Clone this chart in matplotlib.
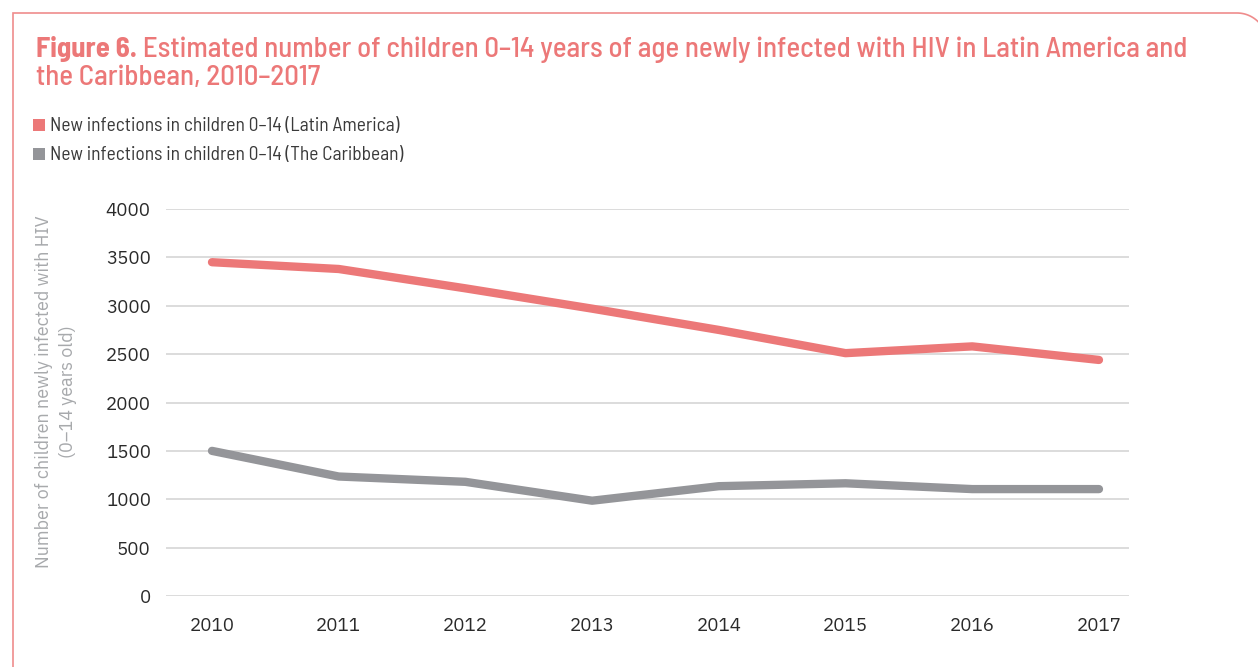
import numpy as np
import matplotlib
matplotlib.use("Agg")
import matplotlib.pyplot as plt
from matplotlib.path import Path
from matplotlib.patches import PathPatch, Rectangle
from matplotlib.transforms import Affine2D

# --- data -------------------------------------------------------------
years = [2010, 2011, 2012, 2013, 2014, 2015, 2016, 2017]
latin_america = [3450, 3380, 3180, 2970, 2750, 2510, 2580, 2440]
caribbean = [1500, 1235, 1180, 985, 1135, 1165, 1105, 1105]
y_ticks = [0, 500, 1000, 1500, 2000, 2500, 3000, 3500, 4000]

series_names = [
    "New infections in children 0\u201314 (Latin America)",
    "New infections in children 0\u201314 (The Caribbean)",
]
title_bold = "Figure 6."
title_line1 = " Estimated number of children 0\u201314 years of age newly infected with HIV in Latin America and"
title_line2 = "the Caribbean, 2010\u20132017"
y_label = "Number of children newly infected with HIV\n(0\u201314 years old)"

# --- style ------------------------------------------------------------
PINK = "#ec7878"
GREY = "#949599"
FRAME = "#ef8c8c"
W, H = 1258, 667
HEAD = ["Barlow Semi Condensed", "DejaVu Sans"]
BODY = ["IBM Plex Sans", "DejaVu Sans"]

fig = plt.figure(figsize=(W / 100, H / 100), dpi=100)
renderer = fig.canvas.get_renderer()
# pixel coordinates measured from the top-left corner
px = Affine2D().scale(1 / W, -1 / H).translate(0, 1) + fig.transFigure

ax = fig.add_axes([166 / W, 1 - 596 / H, (1129 - 166) / W, (596 - 209) / H])
ax.plot(years, latin_america, color=PINK, lw=6, solid_capstyle="round",
        solid_joinstyle="round", zorder=3)
ax.plot(years, caribbean, color=GREY, lw=6, solid_capstyle="round",
        solid_joinstyle="round", zorder=3)

ax.set_ylim(0, 4000)
ax.set_xlim(2009.637, 2017.237)
ax.set_yticks(y_ticks)
ax.set_xticks(years)
ax.set_xticklabels([str(y) for y in years])
ax.grid(axis="y", color="#d2d2d2", lw=1.1, zorder=0)
ax.grid(axis="x", visible=False)
for s in ax.spines.values():
    s.set_visible(False)
ax.tick_params(axis="both", length=0, labelsize=13.5, labelcolor="#2a2a2a")
ax.tick_params(axis="y", pad=11)
ax.tick_params(axis="x", pad=15)
for lab in ax.get_xticklabels() + ax.get_yticklabels():
    lab.set_family(BODY)
    lab.set_fontweight("normal")

# y-axis title
fig.text(56, 392, y_label, transform=px, rotation=90, ha="center", va="center",
         multialignment="center", fontsize=13, color="#a7a9ac",
         family=BODY, fontweight="light", linespacing=1.45)

# heading: bold lead-in followed by the regular text, fitted to the frame
size = 17.5
t_bold = fig.text(36, 57, title_bold, transform=px, fontsize=size,
                  fontweight="bold", color=PINK, family=HEAD, va="baseline")
t_rest = fig.text(0, 57, title_line1, transform=px, fontsize=size,
                  fontweight="medium", color=PINK, family=HEAD, va="baseline")
t_two = fig.text(36, 85, title_line2, transform=px, fontsize=size,
                 fontweight="medium", color=PINK, family=HEAD, va="baseline")
for _ in range(2):
    wb = t_bold.get_window_extent(renderer=renderer).width
    wr = t_rest.get_window_extent(renderer=renderer).width
    size *= 1152 / (wb + wr)
    for t in (t_bold, t_rest, t_two):
        t.set_fontsize(size)
wb = t_bold.get_window_extent(renderer=renderer).width
t_rest.set_x(36 + wb)

# legend
for i, (name, col) in enumerate(zip(series_names, [PINK, GREY])):
    top = 119 + i * 29
    fig.patches.append(Rectangle((33, top), 12, 12, transform=px,
                                 facecolor=col, edgecolor="none"))
    fig.text(50, top + 12, name, transform=px, fontsize=14,
             color="#3a3a3a", family=HEAD, fontweight="normal", va="baseline")

# frame: square top-left corner, rounded top-right corner
r = 30
cx, cy = 1237, 13 + r
ang = np.linspace(-np.pi / 2, 0, 30)
verts = [(13, 700), (13, 13), (cx, 13)]
verts += [(cx + r * np.cos(a), cy + r * np.sin(a)) for a in ang]
verts += [(cx + r, 700)]
frame = PathPatch(Path(verts), transform=px, facecolor="none",
                  edgecolor=FRAME, lw=1.2)
fig.patches.append(frame)

fig.savefig("out.png", dpi=100)
